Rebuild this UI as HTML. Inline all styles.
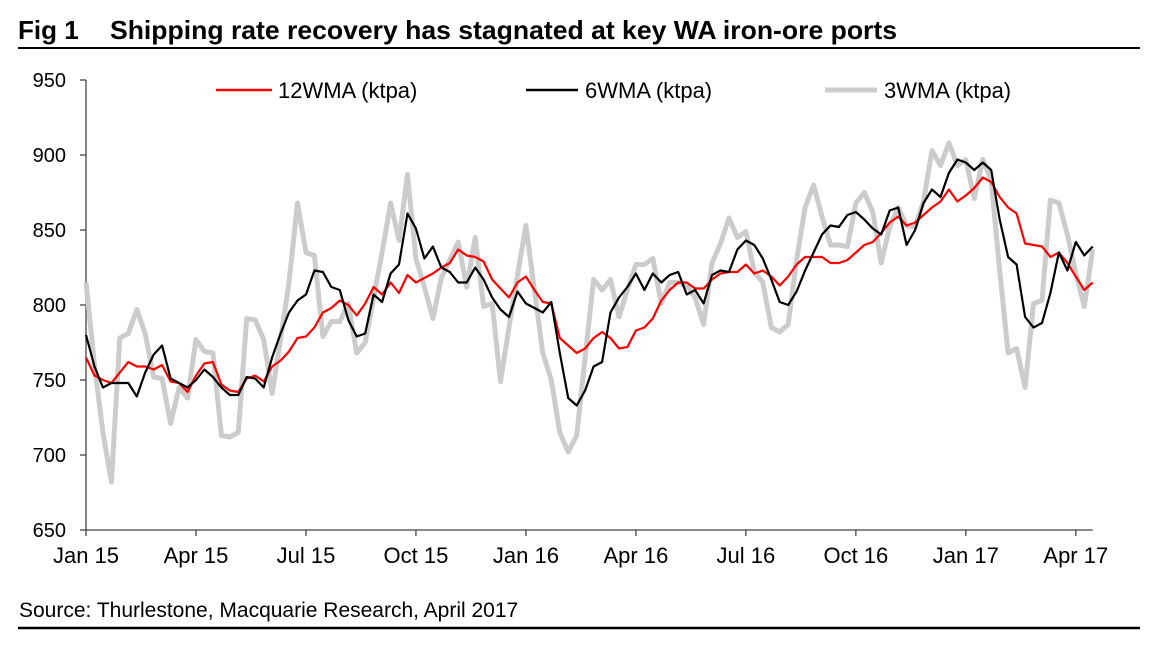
<!DOCTYPE html>
<html><head><meta charset="utf-8"><style>
body{margin:0;background:#fff;width:1165px;height:649px;overflow:hidden;font-family:"Liberation Sans",Arial,sans-serif}
svg text{font-family:"Liberation Sans",Arial,sans-serif}
</style></head><body>
<svg id="chart" width="1165" height="649" xmlns="http://www.w3.org/2000/svg">
<text x="18" y="39" font-size="26" font-weight="bold" fill="#000">Fig 1</text>
<text x="110" y="39" font-size="26" font-weight="bold" fill="#000" textLength="787" lengthAdjust="spacingAndGlyphs">Shipping rate recovery has stagnated at key WA iron-ore ports</text>
<line x1="18" y1="48" x2="1140" y2="48" stroke="#000" stroke-width="2"/>
<g id="grid"></g>
<g id="series"></g>
<g>
<line x1="216" y1="90" x2="272" y2="90" stroke="#ff0000" stroke-width="2.5"/>
<text x="278" y="98" font-size="22">12WMA (ktpa)</text>
<line x1="526" y1="90" x2="578" y2="90" stroke="#000" stroke-width="2.5"/>
<text x="585" y="98" font-size="22">6WMA (ktpa)</text>
<line x1="825" y1="90" x2="877" y2="90" stroke="#cccccc" stroke-width="5"/>
<text x="884" y="98" font-size="22">3WMA (ktpa)</text>
</g>
<text x="19" y="617" font-size="21">Source: Thurlestone, Macquarie Research, April 2017</text>
<line x1="18" y1="628" x2="1140" y2="628" stroke="#000" stroke-width="2.5"/>
</svg>
<script>
const yTicks=[650,700,750,800,850,900,950];
const xTickLabels=["Jan 15","Apr 15","Jul 15","Oct 15","Jan 16","Apr 16","Jul 16","Oct 16","Jan 17","Apr 17"];
const xTickWeeks=[0,13,26,39,52,65,78,91,104,117];
const wma12=[765,753,750,748,755,762,759,759,757,760,749,748,742,753,761,762,747,743,742,751,753,749,759,763,769,778,779,785,795,798,803,800,793,801,812,807,815,808,820,815,818,821,825,828,837,833,832,829,817,811,805,815,819,810,802,801,778,773,768,771,778,782,778,771,772,783,785,791,803,810,815,815,811,811,817,821,822,822,827,821,823,819,813,819,827,832,832,832,828,828,830,835,840,842,848,855,859,853,855,860,865,869,877,869,873,878,885,882,872,865,861,841,840,839,832,835,828,819,810,815];
const wma6=[780,759,745,748,748,748,739,755,767,773,751,748,745,750,757,752,745,740,740,752,751,745,765,781,795,803,807,823,822,812,810,790,779,781,807,802,821,827,861,851,831,839,825,822,815,815,825,817,805,797,792,809,801,798,795,802,768,738,733,743,759,762,795,805,812,821,810,821,815,820,822,807,810,801,820,823,822,837,843,840,831,817,802,800,809,823,835,847,853,852,860,862,857,851,847,863,865,840,850,868,877,872,888,897,895,890,895,890,857,832,827,792,785,788,808,835,823,842,833,839];
const wma3=[815,760,715,682,778,781,797,781,752,751,721,745,738,777,769,768,713,712,715,791,790,777,741,777,815,868,835,833,779,789,789,801,768,775,805,835,868,843,887,831,812,791,818,830,842,812,845,799,801,749,785,820,853,810,768,750,715,702,713,765,817,810,817,792,810,827,827,831,801,815,815,813,805,787,828,841,858,845,849,822,815,785,782,787,830,865,880,859,840,840,839,868,875,862,828,852,865,853,852,869,903,893,908,893,897,871,897,883,823,768,771,745,801,803,870,868,847,821,799,837];
const NS="http://www.w3.org/2000/svg";
const X0=86,STEP=8.46,Y0=530;
function xs(i){return X0+i*STEP;}
function ys(v){return Y0-(v-650)*1.5;}
const grid=document.getElementById('grid');
function mk(tag,attrs,parent){const e=document.createElementNS(NS,tag);for(const k in attrs)e.setAttribute(k,attrs[k]);parent.appendChild(e);return e;}
const yax=mk('line',{x1:X0,y1:ys(950),x2:X0,y2:Y0,stroke:'#444','stroke-width':1.3},grid);


const xax=mk('line',{x1:X0,y1:Y0,x2:xs(119),y2:Y0,stroke:'#444','stroke-width':1.3},grid);


yTicks.forEach(v=>{
 const t=mk('line',{x1:X0-6,y1:ys(v),x2:X0,y2:ys(v),stroke:'#444','stroke-width':1.3},grid);
 
 
 const l=mk('text',{x:X0-20,y:ys(v)+7,'font-size':20,'text-anchor':'end'},grid);
 l.textContent=v;
 
 
});
xTickWeeks.forEach((w,i)=>{
 const t=mk('line',{x1:xs(w),y1:Y0,x2:xs(w),y2:Y0+6,stroke:'#444','stroke-width':1.3},grid);
 
 
 const l=mk('text',{x:xs(w),y:Y0+33,'font-size':22,'text-anchor':'middle'},grid);
 l.textContent=xTickLabels[i];
 
 
});
const sg=document.getElementById('series');
function line(arr,color,w,name){
 const p=mk('polyline',{points:arr.map((v,i)=>xs(i).toFixed(1)+','+ys(v).toFixed(1)).join(' '),fill:'none',stroke:color,'stroke-width':w,'stroke-linejoin':'round'},sg);
 
 
}
line(wma3,'#cccccc',5,'line-3wma');
line(wma12,'#ff0000',2.2,'line-12wma');
line(wma6,'#000000',2.2,'line-6wma');
</script>
</body></html>
